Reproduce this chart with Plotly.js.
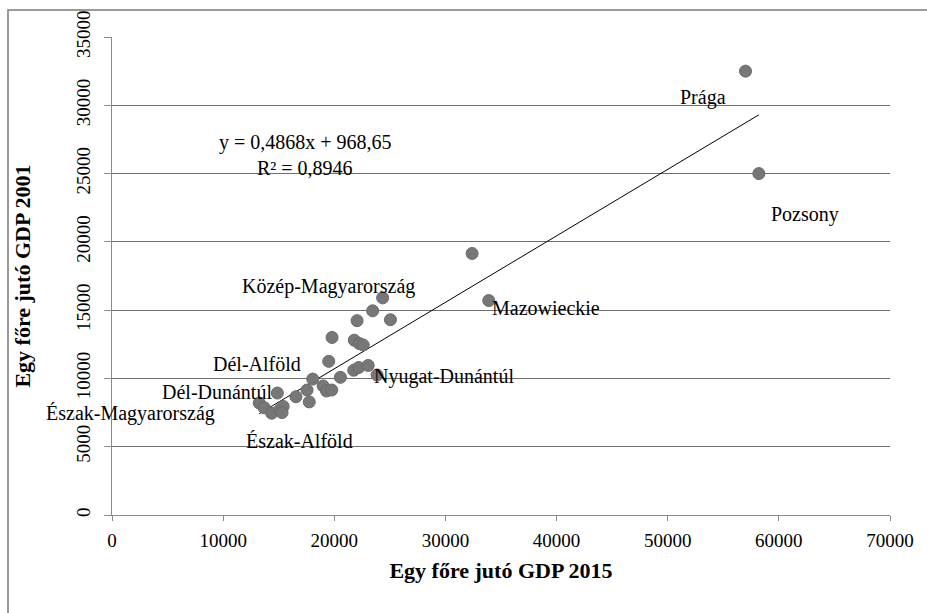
<!DOCTYPE html>
<html>
<head>
<meta charset="utf-8">
<script src="https://cdn.plot.ly/plotly-3.0.1.min.js"></script>
<style>
  html, body { margin: 0; padding: 0; background: #fff; }
  #chart { width: 927px; height: 613px; }
</style>
</head>
<body>
<div id="chart"></div>
<script>
// GDP per capita by region: 2015 (x) against 2001 (y)
const gdp2015 = [
  57000, 58200, 32400, 33900, 24350, 23450, 22050, 25050, 19800, 21800,
  22250, 22600, 19500, 21750, 22200, 23050, 23850, 20550, 18060, 19000,
  19300, 19770, 17550, 17750, 16550, 14880, 13250, 13700, 14370, 15100,
  15400, 15300
];
const gdp2001 = [
  32500, 25000, 19150, 15700, 15900, 14950, 14230, 14300, 13000, 12800,
  12550, 12450, 11250, 10600, 10800, 10950, 10250, 10080, 9950, 9450,
  9080, 9150, 9150, 8280, 8660, 8930, 8200, 7850, 7450, 7700,
  7950, 7500
];

// Linear trend coefficients shown in the equation label
const slope = 0.4868;
const intercept = 968.65;
const rSquared = 0.8946;

// Region names and where each one is written (data units)
const labelText = [
  "Prága", "Pozsony", "Mazowieckie", "Nyugat-Dunántúl", "Közép-Magyarország",
  "Dél-Alföld", "Dél-Dunántúl", "Észak-Magyarország", "Észak-Alföld"
];
const labelX = [53175, 62355, 39050, 29872, 19435, 13047, 9448, 1620, 16826];
const labelY = [30607, 22040, 15157, 10105, 16768, 11057, 9006, 7396, 5418];

const fmt = (v, d) => v.toFixed(d).replace(".", ",");

const xMin = Math.min(...gdp2015);
const xMax = Math.max(...gdp2015);
const trendX = [xMin, xMax];
const trendY = trendX.map(x => slope * x + intercept);

const serif = "Liberation Serif, Times New Roman, serif";

const traces = [
  {
    type: "scatter",
    mode: "lines",
    x: trendX,
    y: trendY,
    line: { color: "#000", width: 1 },
    hoverinfo: "skip",
    showlegend: false
  },
  {
    type: "scatter",
    mode: "markers",
    x: gdp2015,
    y: gdp2001,
    marker: { size: 12, color: "#777777", line: { color: "#6a6a6a", width: 1 } },
    showlegend: false
  }
];

const annotations = labelText.map((t, i) => ({
  x: labelX[i], y: labelY[i], xref: "x", yref: "y",
  text: t, showarrow: false, xanchor: "center", yanchor: "middle",
  font: { family: serif, size: 20, color: "#000" }
}));
annotations.push({
  x: 17366, y: 27239, xref: "x", yref: "y",
  text: "y = " + fmt(slope, 4) + "x + " + fmt(intercept, 2),
  showarrow: false, xanchor: "center", yanchor: "middle",
  font: { family: serif, size: 20, color: "#000" }
});
annotations.push({
  x: 17366, y: 25409, xref: "x", yref: "y",
  text: "R² = " + fmt(rSquared, 4),
  showarrow: false, xanchor: "center", yanchor: "middle",
  font: { family: serif, size: 20, color: "#000" }
});

const W = 927, H = 613;
const m = { l: 112, r: 37, t: 37, b: 98 };
const pw = W - m.l - m.r, ph = H - m.t - m.b;
const px = v => (v - m.l) / pw;
const py = v => (H - m.b - v) / ph;

const layout = {
  width: W,
  height: H,
  margin: m,
  paper_bgcolor: "#fff",
  plot_bgcolor: "#fff",
  font: { family: serif, color: "#000" },
  xaxis: {
    range: [0, 70000],
    tickvals: [0, 10000, 20000, 30000, 40000, 50000, 60000, 70000],
    ticktext: ["0", "10000", "20000", "30000", "40000", "50000", "60000", "70000"],
    showgrid: false,
    zeroline: false,
    showline: true,
    linecolor: "#8a8a8a",
    linewidth: 1,
    ticks: "outside",
    ticklen: 5,
    tickcolor: "#8a8a8a",
    ticklabelstandoff: 3,
    tickfont: { family: serif, size: 19, color: "#000" },
    title: { text: "<b>Egy főre jutó GDP 2015</b>", font: { family: serif, size: 22, color: "#000" }, standoff: 12 }
  },
  yaxis: {
    range: [0, 35000],
    tickvals: [0, 5000, 10000, 15000, 20000, 25000, 30000, 35000],
    ticktext: ["0", "5000", "10000", "15000", "20000", "25000", "30000", "35000"],
    tickangle: -90,
    showgrid: true,
    gridcolor: "#6e6e6e",
    gridwidth: 1,
    zeroline: false,
    showline: true,
    linecolor: "#8a8a8a",
    linewidth: 1,
    ticks: "outside",
    ticklen: 7,
    tickcolor: "#8a8a8a",
    ticklabelstandoff: 6,
    tickfont: { family: serif, size: 19, color: "#000" },
    title: { text: "<b>Egy főre jutó GDP 2001</b>", font: { family: serif, size: 22, color: "#000" }, standoff: 36 }
  },
  annotations: annotations,
  shapes: [
    {
      type: "path", xref: "paper", yref: "paper",
      path: "M " + px(8) + " " + py(H + 5) + " L " + px(8) + " " + py(10) + " L " + px(W + 5) + " " + py(10),
      line: { color: "#7a7a7a", width: 1.5 }
    }
  ]
};

Plotly.newPlot("chart", traces, layout, { displayModeBar: false, staticPlot: true });
</script>
</body>
</html>
